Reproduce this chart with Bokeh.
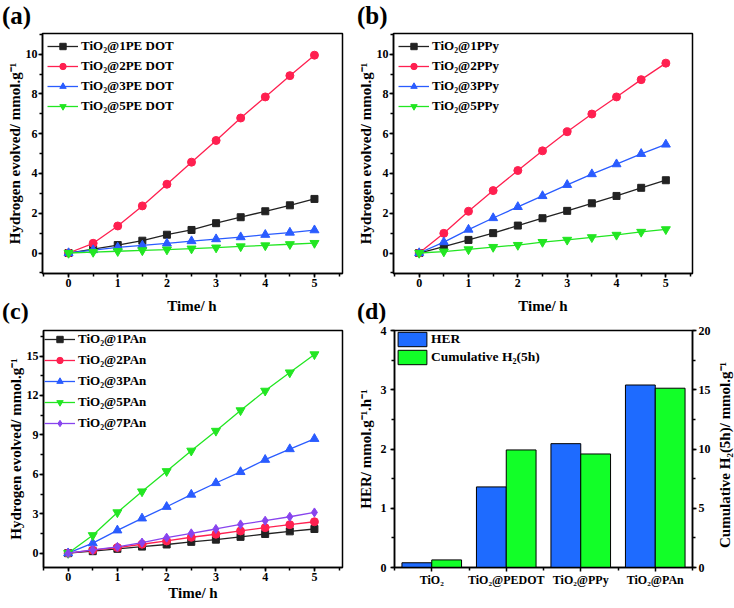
from bokeh.plotting import figure
from bokeh.layouts import column, row
from bokeh.models import (Range1d, LinearAxis, SingleIntervalTicker, FixedTicker,
                          Legend, Div)
from bokeh.embed import file_html
from bokeh.resources import INLINE

# ---------------- data ----------------
time_h = [0, 0.5, 1, 1.5, 2, 2.5, 3, 3.5, 4, 4.5, 5]

pedot_labels = ["TiO₂@1PE DOT", "TiO₂@2PE DOT", "TiO₂@3PE DOT", "TiO₂@5PE DOT"]
pedot1 = [0, 0.20, 0.40, 0.62, 0.92, 1.16, 1.50, 1.80, 2.10, 2.40, 2.72]
pedot2 = [0, 0.49, 1.36, 2.37, 3.46, 4.57, 5.66, 6.79, 7.85, 8.92, 9.95]
pedot3 = [0, 0.15, 0.28, 0.38, 0.48, 0.60, 0.70, 0.80, 0.92, 1.03, 1.15]
pedot5 = [0, 0.05, 0.09, 0.13, 0.17, 0.22, 0.27, 0.33, 0.38, 0.44, 0.50]

ppy_labels = ["TiO₂@1PPy", "TiO₂@2PPy", "TiO₂@3PPy", "TiO₂@5PPy"]
ppy1 = [0, 0.32, 0.66, 1.00, 1.38, 1.75, 2.12, 2.50, 2.87, 3.28, 3.66]
ppy2 = [0, 0.99, 2.10, 3.14, 4.15, 5.14, 6.10, 6.99, 7.85, 8.72, 9.55]
ppy3 = [0, 0.55, 1.18, 1.76, 2.32, 2.87, 3.43, 3.97, 4.47, 4.99, 5.46]
ppy5 = [0, 0.07, 0.18, 0.30, 0.40, 0.55, 0.66, 0.79, 0.91, 1.06, 1.19]

pan_labels = ["TiO₂@1PAn", "TiO₂@2PAn", "TiO₂@3PAn", "TiO₂@5PAn", "TiO₂@7PAn"]
pan1 = [0, 0.15, 0.33, 0.50, 0.66, 0.86, 1.03, 1.24, 1.46, 1.66, 1.84]
pan2 = [0, 0.23, 0.43, 0.68, 0.93, 1.21, 1.44, 1.69, 1.94, 2.17, 2.39]
pan3 = [0, 0.76, 1.74, 2.65, 3.53, 4.46, 5.34, 6.18, 7.11, 7.92, 8.70]
pan5 = [0, 1.36, 3.10, 4.69, 6.23, 7.79, 9.30, 10.86, 12.35, 13.74, 15.12]
pan7 = [0, 0.25, 0.48, 0.81, 1.18, 1.51, 1.84, 2.19, 2.47, 2.77, 3.10]

bar_cats = ["TiO₂", "TiO₂@PEDOT", "TiO₂@PPy", "TiO₂@PAn"]
her_rate = [0.08, 1.36, 2.09, 3.08]
cum_h2 = [0.64, 9.92, 9.58, 15.13]

panel_letters = ["(a)", "(b)", "(c)", "(d)"]
time_label = "Time/ h"
h2_label = "Hydrogen evolved/ mmol.g⁻¹"
her_label = "HER/ mmol.g⁻¹.h⁻¹"
cum_label = "Cumulative H₂(5h)/ mmol.g⁻¹"

# ---------------- style ----------------
FONT = "Liberation Serif"
BLACK, RED, BLUE, GREEN, PURPLE = "#222222", "#FF2050", "#2A5CFF", "#22E622", "#8844EE"
BAR_BLUE, BAR_GREEN = "#1E6BFF", "#12FF28"
MARKERS = ["square", "circle", "triangle", "inverted_triangle", "diamond"]
MSIZE = [7, 8, 9, 9, 9]


def style_axis(ax, label_standoff=1, axis_standoff=2):
    ax.axis_line_width = 1.5
    ax.axis_line_color = "black"
    ax.major_tick_line_width = 1.5
    ax.minor_tick_line_width = 1.5
    ax.major_tick_in = 0
    ax.major_tick_out = 4
    ax.minor_tick_in = 0
    ax.minor_tick_out = 3
    ax.major_label_text_font = FONT
    ax.major_label_text_font_style = "bold"
    ax.major_label_text_font_size = "12px"
    ax.major_label_text_color = "black"
    ax.major_label_standoff = label_standoff
    ax.axis_label_text_font = FONT
    ax.axis_label_text_font_style = "bold"
    ax.axis_label_text_font_size = "15px"
    ax.axis_label_text_color = "black"
    ax.axis_label_standoff = axis_standoff


def base_fig(w, h, borders, xr, yr):
    l, r, t, b = borders
    p = figure(width=w, height=h, x_range=Range1d(*xr), y_range=Range1d(*yr),
               output_backend="svg", toolbar_location=None,
               min_border_left=l, min_border_right=r, min_border_top=t, min_border_bottom=b)
    p.xgrid.visible = False
    p.ygrid.visible = False
    p.outline_line_color = "black"
    p.outline_line_width = 1.5
    p.outline_line_alpha = 1
    p.background_fill_color = "white"
    p.border_fill_color = "white"
    return p


def line_panel(w, h, borders, xr, yr, ytick, series, labels, colors, xlabel,
               leg_margin, leg_padding, leg_spacing):
    p = base_fig(w, h, borders, xr, yr)
    p.xaxis.ticker = SingleIntervalTicker(interval=1, num_minor_ticks=2)
    p.yaxis.ticker = SingleIntervalTicker(interval=ytick, num_minor_ticks=2)
    style_axis(p.xaxis[0], label_standoff=1, axis_standoff=1)
    style_axis(p.yaxis[0], label_standoff=1, axis_standoff=0)
    p.yaxis.axis_label = h2_label
    if xlabel:
        p.xaxis.axis_label = xlabel
    items = []
    for i, (ys, lab, col) in enumerate(zip(series, labels, colors)):
        ln = p.line(time_h, ys, line_color=col, line_width=1.3)
        sc = p.scatter(time_h, ys, marker=MARKERS[i], size=MSIZE[i],
                       fill_color=col, line_color=col)
        items.append((lab, [ln, sc]))
    leg = Legend(items=items, location="top_left")
    leg.border_line_color = None
    leg.background_fill_alpha = 0
    leg.label_text_font = FONT
    leg.label_text_font_style = "bold"
    leg.label_text_font_size = "13px"
    leg.label_text_color = "black"
    leg.glyph_width = 31
    leg.glyph_height = 16
    leg.label_height = 16
    leg.label_standoff = 3
    leg.spacing = leg_spacing
    leg.margin = leg_margin
    leg.padding = leg_padding
    p.add_layout(leg)
    return p


XA, YA = (-0.53, 5.57), (-1.03, 11.04)
XB, YB = (-0.52, 5.54), (-1.03, 11.04)
XC, YC = (-0.50, 5.57), (-1.09, 16.94)
XD, YD = (0, 4), (0, 4)

# columns: x 0..350 and 350..734 ; rows: y 32..299 and 323..605
pa = line_panel(350, 267, (42, 8, 1, 26), XA, YA, 2,
                [pedot1, pedot2, pedot3, pedot5], pedot_labels,
                [BLACK, RED, BLUE, GREEN], None, 5, 5, 4)
pb = line_panel(384, 267, (43, 42, 1, 26), XB, YB, 2,
                [ppy1, ppy2, ppy3, ppy5], ppy_labels,
                [BLACK, RED, BLUE, GREEN], None, 5, 4, 4)
pc = line_panel(350, 282, (43, 8, 5, 38), XC, YC, 3,
                [pan1, pan2, pan3, pan5, pan7], pan_labels,
                [BLACK, RED, BLUE, GREEN, PURPLE], time_label, 1, 3, 5)

# ---------------- panel d ----------------
pd_ = base_fig(366, 282, (44, 24, 7, 36), XD, YD)
pd_.extra_y_ranges = {"cum": Range1d(0, 20)}
centers = [i + 0.5 for i in range(len(bar_cats))]
pd_.xaxis.ticker = FixedTicker(ticks=centers, minor_ticks=list(range(len(bar_cats) + 1)))
pd_.xaxis.major_label_overrides = {c: lab for c, lab in zip(centers, bar_cats)}
pd_.yaxis.ticker = SingleIntervalTicker(interval=1, num_minor_ticks=2)
style_axis(pd_.xaxis[0], label_standoff=1)
style_axis(pd_.yaxis[0], label_standoff=4, axis_standoff=4)
pd_.yaxis.axis_label = her_label
rax = LinearAxis(y_range_name="cum", ticker=SingleIntervalTicker(interval=5, num_minor_ticks=2))
style_axis(rax, label_standoff=2, axis_standoff=2)
pd_.add_layout(rax, "right")

b1 = pd_.vbar(x=[c - 0.2 for c in centers], top=her_rate, width=0.4, bottom=0,
              fill_color=BAR_BLUE, line_color="black", line_width=1)
b2 = pd_.vbar(x=[c + 0.2 for c in centers], top=cum_h2, width=0.4, bottom=0,
              fill_color=BAR_GREEN, line_color="black", line_width=1, y_range_name="cum")
legd = Legend(items=[("HER", [b1]), ("Cumulative H₂(5h)", [b2])], location="top_left")
legd.border_line_color = None
legd.background_fill_alpha = 0
legd.label_text_font = FONT
legd.label_text_font_style = "bold"
legd.label_text_font_size = "13.5px"
legd.label_text_color = "black"
legd.glyph_width = 36
legd.glyph_height = 18
legd.label_height = 18
legd.spacing = 0
legd.margin = 0
legd.padding = 5
legd.label_standoff = 1
pd_.add_layout(legd)


# ---------------- text bands (panel letters, x labels, right axis label) ----------------
def span(text, left, top, size, center=False, rotate=False):
    tr = ""
    if center:
        tr = "transform:translateX(-50%);"
    if rotate:
        tr = "transform:translate(-50%,-50%) rotate(-90deg);"
    return (f'<span style="position:absolute;left:{left}px;top:{top}px;font-size:{size}px;'
            f'line-height:{size}px;white-space:nowrap;{tr}">{text}</span>')


def band(width, height, spans):
    return Div(text=(f'<div style="position:relative;width:{width}px;height:{height}px;'
                     f"font-family:'{FONT}',serif;font-weight:bold;color:black\">"
                     + "".join(spans) + "</div>"),
               width=width, height=height, margin=(0, 0, 0, 0))


top_band = band(734, 32, [span(panel_letters[0], 2, 3, 25), span(panel_letters[1], 357, 3, 25)])
mid_band = band(734, 24, [span(time_label, 192, 0, 15, center=True),
                          span(time_label, 543, 0, 15, center=True),
                          span(panel_letters[2], 2, 0, 24), span(panel_letters[3], 357, 0, 24)])
right_band = band(18, 282, [span(cum_label, 9, 132, 15, rotate=True)])

layout = column(top_band, row(pa, pb), mid_band, row(pc, pd_, right_band))
open("out.html", "w").write(file_html(layout, INLINE))
